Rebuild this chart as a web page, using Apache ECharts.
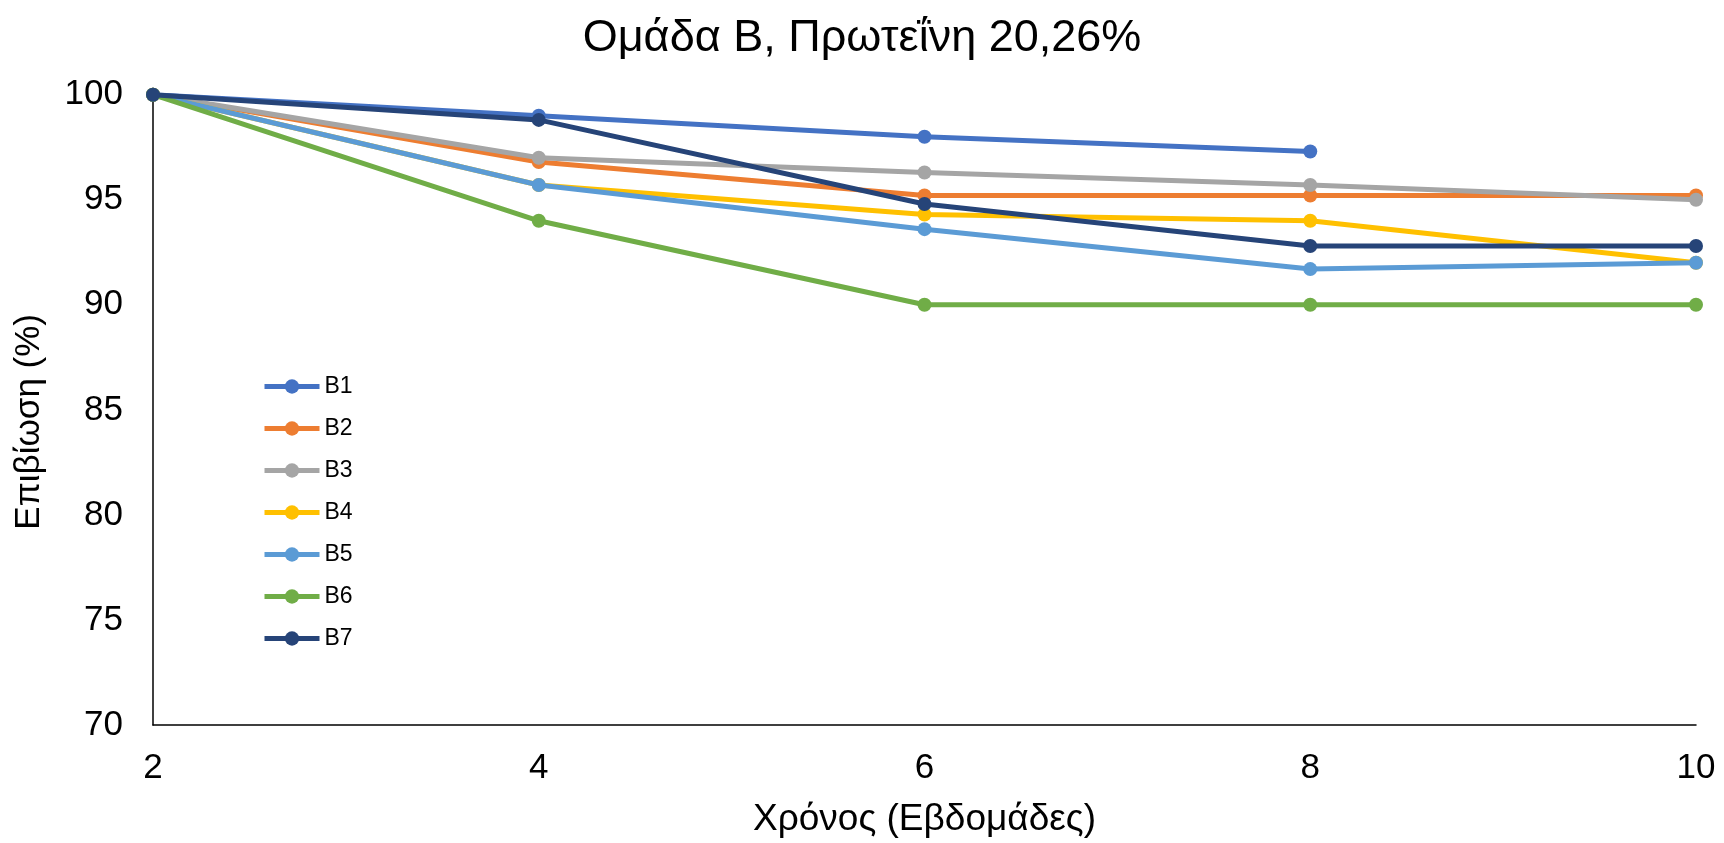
<!DOCTYPE html>
<html>
<head>
<meta charset="utf-8">
<script src="https://cdn.jsdelivr.net/npm/echarts@6/dist/echarts.min.js"></script>
<style>
  html, body { margin: 0; padding: 0; background: #fff; overflow: hidden; }
  #chart { width: 1724px; height: 843px; }
</style>
</head>
<body>
<div id="chart"></div>
<script>
// Survival (%) per batch over time in weeks
const weeks = [2, 4, 6, 8, 10];
const B1 = [100, 99.0, 98.0, 97.3, null];
const B2 = [100, 96.8, 95.2, 95.2, 95.2];
const B3 = [100, 97.0, 96.3, 95.7, 95.0];
const B4 = [100, 95.7, 94.3, 94.0, 92.0];
const B5 = [100, 95.7, 93.6, 91.7, 92.0];
const B6 = [100, 94.0, 90.0, 90.0, 90.0];
const B7 = [100, 98.8, 94.8, 92.8, 92.8];
const seriesNames = ['B1', 'B2', 'B3', 'B4', 'B5', 'B6', 'B7'];
const seriesValues = [B1, B2, B3, B4, B5, B6, B7];
const colors = ['#4472C4', '#ED7D31', '#A5A5A5', '#FFC000', '#5B9BD5', '#70AD47', '#264478'];

const font = '"Liberation Sans", Arial, sans-serif';

const chart = echarts.init(document.getElementById('chart'), null, { renderer: 'canvas' });

const series = seriesNames.map((name, i) => ({
  name: name,
  type: 'line',
  data: weeks.map((w, j) => seriesValues[i][j] == null ? null : [w, seriesValues[i][j]]),
  connectNulls: false,
  symbol: 'circle',
  symbolSize: 14,
  lineStyle: { width: 5, color: colors[i] },
  itemStyle: { color: colors[i] },
  emphasis: { disabled: true },
  z: 2 + i
}));

chart.setOption({
  animation: false,
  backgroundColor: '#ffffff',
  title: {
    text: 'Ομάδα Β, Πρωτεΐνη 20,26%',
    left: 'center',
    top: 11,
    textStyle: { fontFamily: font, fontSize: 45, fontWeight: 'normal', color: '#000' }
  },
  legend: {
    orient: 'vertical',
    left: 262,
    top: 375,
    padding: 0,
    itemWidth: 55,
    itemHeight: 18,
    itemGap: 19,
    lineStyle: { width: 5 },
    textStyle: { fontFamily: font, fontSize: 23, color: '#000' },
    data: seriesNames
  },
  grid: { left: 153, right: 28, top: 94.7, bottom: 117, containLabel: false },
  xAxis: {
    type: 'value',
    min: 2,
    max: 10,
    interval: 2,
    name: 'Χρόνος (Εβδομάδες)',
    nameLocation: 'middle',
    nameGap: 76,
    nameTextStyle: { fontFamily: font, fontSize: 37, color: '#000' },
    axisLine: { show: true, lineStyle: { color: '#000', width: 1.5 } },
    axisTick: { show: false },
    splitLine: { show: false },
    axisLabel: { fontFamily: font, fontSize: 35, color: '#000', margin: 26 }
  },
  yAxis: {
    type: 'value',
    min: 70,
    max: 100,
    interval: 5,
    name: 'Επιβίωση (%)',
    nameLocation: 'middle',
    nameGap: 106,
    nameRotate: 90,
    nameTextStyle: { fontFamily: font, fontSize: 35, color: '#000', padding: [0, 24, 0, 0] },
    axisLine: { show: true, lineStyle: { color: '#000', width: 1.5 } },
    axisTick: { show: false },
    splitLine: { show: false },
    axisLabel: { fontFamily: font, fontSize: 35, color: '#000', margin: 30 }
  },
  series: series
});
</script>
</body>
</html>
